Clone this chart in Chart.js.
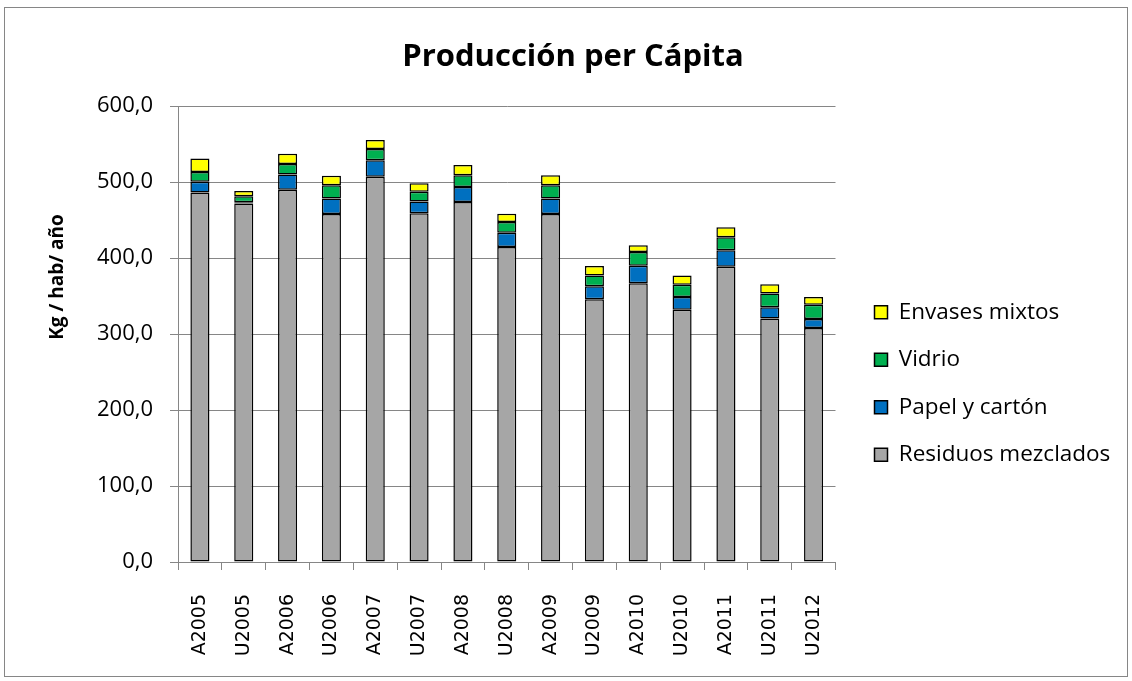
<!DOCTYPE html>
<html>
<head>
<meta charset="utf-8">
<script src="https://cdn.jsdelivr.net/npm/chart.js@4"></script>
<style>
  body { margin: 0; background: #fff; }
  #wrap { width: 1132px; height: 681px; }
</style>
</head>
<body>
<div id="wrap"><canvas id="chart"></canvas></div>
<script>
// Producción per Cápita - stacked bars by waste type
const labels = ['A2005', 'U2005', 'A2006', 'U2006', 'A2007', 'U2007', 'A2008', 'U2008',
  'A2009', 'U2009', 'A2010', 'U2010', 'A2011', 'U2011', 'U2012'];
const residuosMezclados = [486.5, 472, 490, 458, 507, 459, 474, 414.5, 458, 346, 367, 332, 388.5, 320.5, 308];
const papelCarton = [14, 1.5, 20, 20.5, 22, 15.5, 19.5, 19, 20.5, 17, 23, 17, 22, 15, 12];
const vidrio = [13, 8, 14, 17.5, 14.5, 13, 15.5, 14, 17.5, 14, 18, 16, 17, 18, 18.5];
const envasesMixtos = [17.5, 7, 13.5, 12.5, 12, 11, 13.5, 11, 13, 12.5, 9, 12, 13, 12, 10.5];
const yTicks = [0, 100, 200, 300, 400, 500, 600];
const yTitle = 'Kg / hab/ año';

const gridColor = '#868686';

// white background, outer frame and the y axis title (sits above centre like in Excel)
const frame = {
  id: 'frame',
  beforeDraw(chart) {
    const ctx = chart.ctx;
    ctx.save();
    ctx.fillStyle = '#fff';
    ctx.fillRect(0, 0, chart.width, chart.height);
    ctx.strokeStyle = gridColor;
    ctx.lineWidth = 1;
    ctx.strokeRect(4.5, 7.5, 1123, 669);
    ctx.restore();
  },
  afterDraw(chart) {
    const ctx = chart.ctx;
    ctx.save();
    ctx.translate(58, 277);
    ctx.rotate(-Math.PI / 2);
    ctx.font = 'bold 19px "Open Sans"';
    ctx.fillStyle = '#000';
    ctx.textAlign = 'center';
    ctx.textBaseline = 'middle';
    ctx.fillText(yTitle, 0, 0);
    ctx.restore();
  }
};

// move legend away from the plot area and down a bit
const legendShift = {
  id: 'legendShift',
  afterLayout(chart) {
    const l = chart.legend;
    l.left += 14;
    l.right += 14;
    l.top += 43;
    l.bottom += 43;
  }
};

function ds(label, data, color) {
  return {
    label: label,
    data: data,
    backgroundColor: color,
    borderColor: '#000',
    borderWidth: 1.5,
    borderSkipped: false,
    barPercentage: 0.435,
    categoryPercentage: 1.0
  };
}

new Chart(document.getElementById('chart'), {
  type: 'bar',
  data: {
    labels: labels,
    datasets: [
      ds('Residuos mezclados', residuosMezclados, '#A6A6A6'),
      ds('Papel y cartón', papelCarton, '#0070C0'),
      ds('Vidrio', vidrio, '#00B050'),
      ds('Envases mixtos', envasesMixtos, '#FFFF00')
    ]
  },
  options: {
    responsive: true,
    maintainAspectRatio: false,
    animation: false,
    layout: { padding: { top: 20, left: 48, right: 34, bottom: 20 } },
    plugins: {
      title: {
        display: true,
        text: 'Producción per Cápita',
        color: '#000',
        font: { family: 'Open Sans', size: 31, weight: 'bold' },
        padding: { top: 19, bottom: 30 }
      },
      legend: {
        position: 'right',
        reverse: true,
        labels: {
          color: '#000',
          boxWidth: 13,
          boxHeight: 13,
          padding: 25,
          font: { family: 'Open Sans', size: 22.5 }
        }
      },
      tooltip: { enabled: false }
    },
    scales: {
      x: {
        stacked: true,
        grid: { drawOnChartArea: false, color: gridColor, tickLength: 8 },
        border: { color: gridColor },
        ticks: {
          color: '#000',
          minRotation: 90,
          maxRotation: 90,
          padding: 24,
          font: { family: 'DejaVu Sans', size: 19 }
        },
        afterFit(scale) { scale.height = 99; }
      },
      y: {
        stacked: true,
        min: 0,
        max: 600,
        afterBuildTicks(scale) { scale.ticks = yTicks.map(v => ({ value: v })); },
        grid: { color: gridColor, tickLength: 8 },
        border: { color: gridColor },
        ticks: {
          color: '#000',
          padding: 17,
          font: { family: 'Open Sans', size: 22 },
          callback: v => v.toFixed(1).replace('.', ',')
        },
        afterFit(scale) { scale.width = 130; }
      }
    }
  },
  plugins: [frame, legendShift]
});
</script>
</body>
</html>
